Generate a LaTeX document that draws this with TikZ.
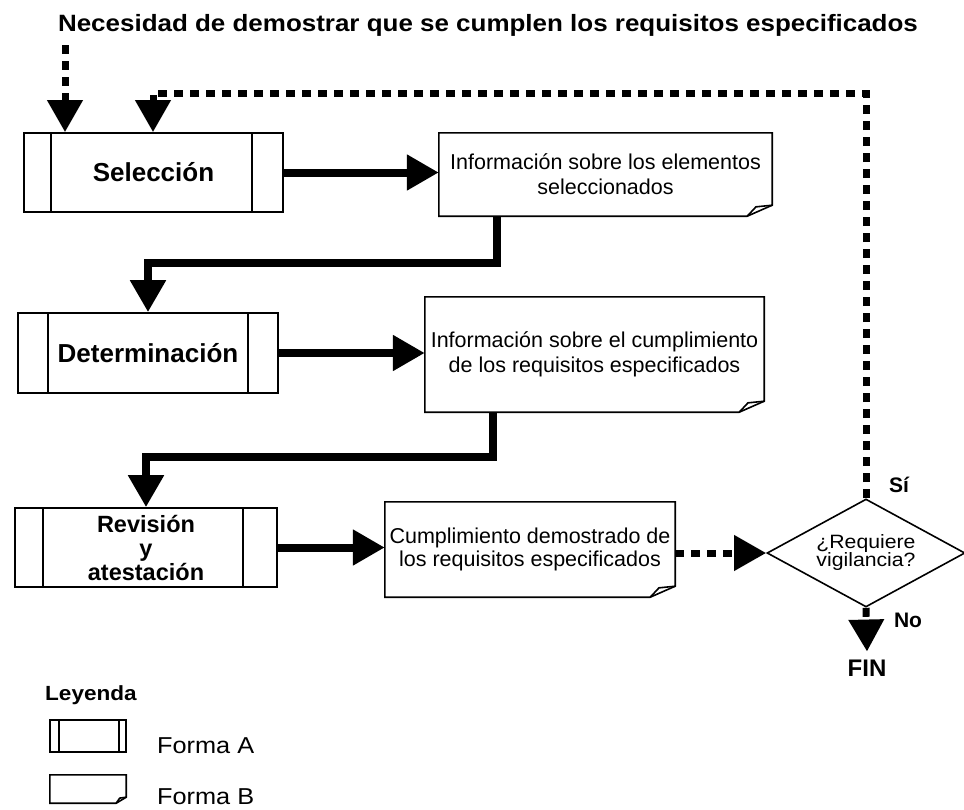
\documentclass[tikz,border=0pt]{standalone}
\usepackage{fontspec}
\setmainfont{Liberation Sans}
\newfontfamily\widefont{Liberation Sans}[FakeStretch=1.1]
\usetikzlibrary{arrows.meta,shapes.geometric}
\newcommand\formb[3]{%
  \draw[shapeline] (#1.north west) -- (#1.north east) -- ([yshift=#3]#1.south east)
     -- ([xshift=-#2]#1.south east) -- (#1.south west) -- cycle;
  \draw[shapeline] ([xshift=-#2]#1.south east) -- ([xshift={-0.65*#2},yshift={0.85*#3}]#1.south east)
     -- ([yshift=#3]#1.south east);}
\newcommand\forma[3]{%
  \draw[shapeline] ([xshift=#2]#1.north west) -- ([xshift=#2]#1.south west);
  \draw[shapeline] ([xshift=-#3]#1.north east) -- ([xshift=-#3]#1.south east);}
\begin{document}
\begin{tikzpicture}[x=1pt,y=-1pt,
  shapeline/.style={line width=1.6pt, line join=miter},
  boxa/.style={draw, shapeline, rectangle, inner sep=0pt, align=center,
    font=\bfseries\fontsize{26}{22}\selectfont},
  boxb/.style={rectangle, inner sep=0pt, align=center,
    font=\fontsize{21.5}{25}\selectfont},
  flow/.style={line width=8pt, -{Triangle[length=32pt,width=34pt]}},
  dflow/.style={line width=7pt, dash pattern=on 9pt off 7pt, -{Triangle[length=32pt,width=34pt]}},
  lbl/.style={inner sep=0pt, font=\bfseries\fontsize{21}{22}\selectfont},
]
\fill[white] (0,0) rectangle (964,809);
\useasboundingbox (0,0) rectangle (964,809);

% title
\node[anchor=base, inner sep=0pt, font=\widefont\bfseries\fontsize{23.6}{26}\selectfont] (title) at (488,31)
  {Necesidad de demostrar que se cumplen los requisitos especificados};

% process boxes (Forma A)
\node[boxa, minimum width=259pt, minimum height=79pt] (sel) at (153.5,172.5) {Selección};
\forma{sel}{28pt}{32pt}
\node[boxa, minimum width=260pt, minimum height=80pt] (det) at (148,353) {Determinación};
\forma{det}{31pt}{31pt}
\node[boxa, minimum width=262pt, minimum height=79pt, font=\bfseries\fontsize{23.5}{24}\selectfont] (rev) at (146,547.5)
  {Revisión\\y\\atestación};
\forma{rev}{29pt}{35pt}

% document boxes (Forma B)
\node[boxb, minimum width=333pt, minimum height=83pt] (info1) at (605.5,174.5)
  {Información sobre los elementos\\seleccionados};
\formb{info1}{25pt}{11pt}
\node[boxb, minimum width=339pt, minimum height=115pt] (info2) at (594.5,354.5)
  {Información sobre el cumplimiento\\de los requisitos especificados};
\formb{info2}{25pt}{11pt}
\node[boxb, minimum width=290pt, minimum height=95pt, font=\fontsize{21.5}{22.5}\selectfont] (cump) at (530,549.5)
  {Cumplimiento demostrado de\\los requisitos especificados};
\formb{cump}{25pt}{11pt}

% decision
\node[diamond, draw, shapeline, inner sep=0pt, shape aspect=2, minimum width=198pt, minimum height=108pt,
  align=center, font=\widefont\fontsize{19.3}{18}\selectfont] (dm) at (866,553) {¿Requiere\\vigilancia?};
\node[lbl] (si) at (899,485) {Sí};
\node[lbl] (no) at (908,620) {No};
\node[inner sep=0pt, font=\bfseries\fontsize{24}{26}\selectfont] (fin) at (867,668) {FIN};

% connectors
\coordinate (st) at (65,45);
\coordinate (fb) at (153,93);
\coordinate (k1) at (0,263);
\coordinate (k2) at (0,457);
\draw[dflow] (st) -- (st |- sel.north);
\draw[dflow] (dm.north) |- (fb) -- (fb |- sel.north);
\draw[flow] (sel.east) -- (sel.east -| info1.west);
\draw[flow] ([xshift=58pt]info1.south west) -- ([xshift=58pt]info1.south west |- k1) -| (det.north);
\draw[flow] (det.east) -- (det.east -| info2.west);
\draw[flow] ([xshift=68pt]info2.south west) -- ([xshift=68pt]info2.south west |- k2) -| (rev.north);
\draw[flow] (rev.east) -- (rev.east -| cump.west);
\draw[dflow] (cump.east |- dm.west) -- (dm.west);
\draw[dflow] (dm.south) -- ([yshift=8pt]fin.north);

% legend
\node[anchor=west, inner sep=0pt, font=\widefont\bfseries\fontsize{20.5}{22}\selectfont] (ley) at (45,695) {Leyenda};
\node[draw, shapeline, rectangle, inner sep=0pt, minimum width=76pt, minimum height=32pt] (lega) at (88,736) {};
\forma{lega}{10pt}{8pt}
\node[anchor=west, inner sep=0pt, font=\widefont\fontsize{23}{24}\selectfont] (fa) at (157,746) {Forma A};
\node[rectangle, inner sep=0pt, minimum width=76pt, minimum height=28pt] (legb) at (88,789) {};
\formb{legb}{10pt}{6pt}
\node[anchor=west, inner sep=0pt, font=\widefont\fontsize{23}{24}\selectfont] (fbt) at (157,797) {Forma B};
\end{tikzpicture}
\end{document}
